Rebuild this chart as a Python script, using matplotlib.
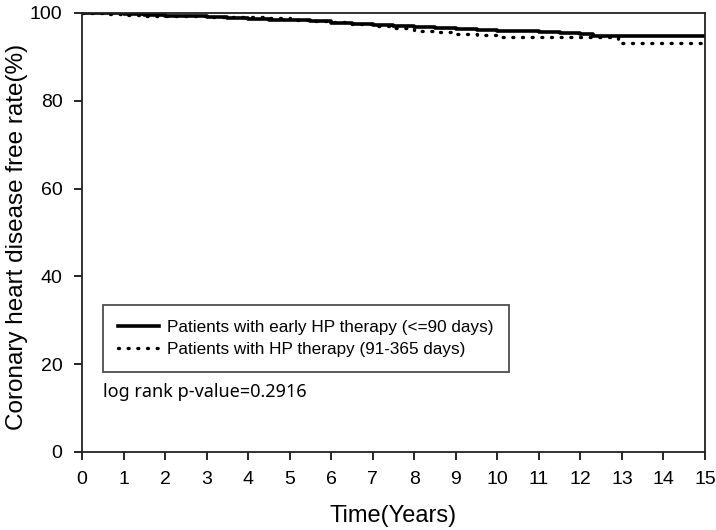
import matplotlib
matplotlib.use("Agg")
import matplotlib.pyplot as plt

# Kaplan-Meier style step curves
t_early = [0, 0.5, 1, 1.5, 2, 2.5, 3, 3.5, 4, 4.5, 5, 5.5, 6, 6.5, 7, 7.5,
           8, 8.5, 9, 9.5, 10, 10.5, 11, 11.5, 12, 12.3, 15]
s_early = [100, 99.9, 99.7, 99.6, 99.4, 99.3, 99.1, 98.9, 98.7, 98.5, 98.3, 98.1,
           97.8, 97.6, 97.3, 97.1, 96.9, 96.6, 96.4, 96.2, 96.0, 95.8, 95.6, 95.5,
           95.3, 94.8, 94.8]

t_late = [0, 0.5, 1, 1.5, 2, 2.5, 3, 3.5, 4, 4.5, 5, 5.5, 6, 6.5, 7, 7.5,
          8, 8.5, 9, 9.5, 10, 11, 12, 12.9, 15]
s_late = [100, 99.8, 99.6, 99.4, 99.3, 99.2, 99.1, 99.1, 99.0, 98.8, 98.5, 98.2,
          97.9, 97.5, 97.0, 96.5, 96.0, 95.6, 95.2, 94.9, 94.6, 94.6, 94.6, 93.2, 93.2]

label_early = "Patients with early HP therapy (<=90 days)"
label_late = "Patients with HP therapy (91-365 days)"
pvalue_text = "log rank p-value=0.2916"

xticks = list(range(0, 16))
yticks = [0, 20, 40, 60, 80, 100]

plt.rcParams['font.family'] = ['Liberation Sans', 'DejaVu Sans']

fig = plt.figure(figsize=(7.16, 5.30), dpi=100)
ax = fig.add_axes([0.1145, 0.1472, 0.8701, 0.8283])

ax.step(t_early, s_early, where='post', color='black', lw=2.6, label=label_early)
ax.step(t_late, s_late, where='post', color='black', lw=2.4,
        linestyle=(0, (0.3, 2.6)), dash_capstyle='round', label=label_late)

ax.set_xlim(0, 15)
ax.set_ylim(0, 100)
ax.set_xticks(xticks)
ax.set_yticks(yticks)
ax.tick_params(direction='out', length=6, width=1.2, labelsize=14, pad=8)

for sp in ax.spines.values():
    sp.set_linewidth(1.3)
    sp.set_color('#222222')

ax.set_xlabel("Time(Years)", fontsize=17, labelpad=12)
ax.set_ylabel("Coronary heart disease free rate(%)", fontsize=17.5)
ax.yaxis.set_label_coords(-0.087, 0.49)

leg = ax.legend(loc='upper left', bbox_to_anchor=(0.034, 0.335), frameon=True,
                fancybox=False, edgecolor='#222222', handlelength=2.4,
                borderpad=0.85, labelspacing=0.45, handletextpad=0.5,
                borderaxespad=0,
                prop={'family': ['Liberation Sans', 'DejaVu Sans'], 'size': 12.35})
leg.get_frame().set_linewidth(1.3)

ax.text(0.033, 0.137, pvalue_text, transform=ax.transAxes, fontsize=13,
        family=['Noto Sans', 'DejaVu Sans'], va='center', ha='left')

fig.savefig("out.png", dpi=100)
